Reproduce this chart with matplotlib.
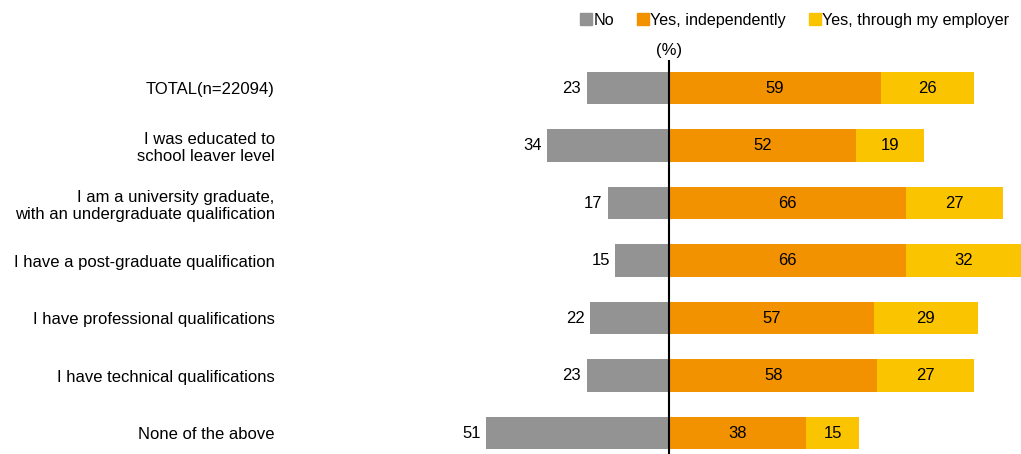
import matplotlib.pyplot as plt
from matplotlib.patches import Patch

plt.rcParams['font.family'] = ['Liberation Sans', 'DejaVu Sans']

categories = [
    'TOTAL(n=22094)',
    'I was educated to\nschool leaver level',
    'I am a university graduate,\nwith an undergraduate qualification',
    'I have a post-graduate qualification',
    'I have professional qualifications',
    'I have technical qualifications',
    'None of the above',
]
no_vals = [23, 34, 17, 15, 22, 23, 51]
indep_vals = [59, 52, 66, 66, 57, 58, 38]
employer_vals = [26, 19, 27, 32, 29, 27, 15]

series_names = ['No', 'Yes, independently', 'Yes, through my employer']
colors = ['#939393', '#F39200', '#FBC400']

fig = plt.figure(figsize=(10.21, 4.54), dpi=100)
ax = fig.add_axes([290 / 1021, 0, (1021 - 290) / 1021, 394 / 454])

y = list(range(len(categories)))
h = 0.57

ax.barh(y, [-v for v in no_vals], height=h, color=colors[0])
ax.barh(y, indep_vals, height=h, color=colors[1])
ax.barh(y, employer_vals, left=indep_vals, height=h, color=colors[2])

fs = 12
for i in y:
    ax.text(-no_vals[i] - 1.5, i, str(no_vals[i]), ha='right', va='center', fontsize=fs)
    ax.text(indep_vals[i] / 2, i, str(indep_vals[i]), ha='center', va='center', fontsize=fs)
    ax.text(indep_vals[i] + employer_vals[i] / 2, i, str(employer_vals[i]),
            ha='center', va='center', fontsize=fs)

ax.axvline(0, color='black', lw=1.5, ymin=0, ymax=1)

ax.set_xlim(-105.6, 98)
ax.set_ylim(6.365, -0.487)
ax.set_yticks(y)
ax.set_yticklabels(categories, fontsize=fs)
ax.tick_params(axis='y', length=0, pad=11)
ax.set_xticks([])
for s in ax.spines.values():
    s.set_visible(False)

ax.text(0, -0.52, '(%)', ha='center', va='bottom', fontsize=fs)

handles = [Patch(color=c) for c in colors]
fig.legend(handles, series_names, loc='upper left', bbox_to_anchor=(569 / 1021, 0.997),
           ncol=3, frameon=False, fontsize=11.6, handlelength=0.75, handleheight=0.75,
           handletextpad=0.08, columnspacing=1.4, borderaxespad=0.3)

plt.savefig('out.png', dpi=100)
